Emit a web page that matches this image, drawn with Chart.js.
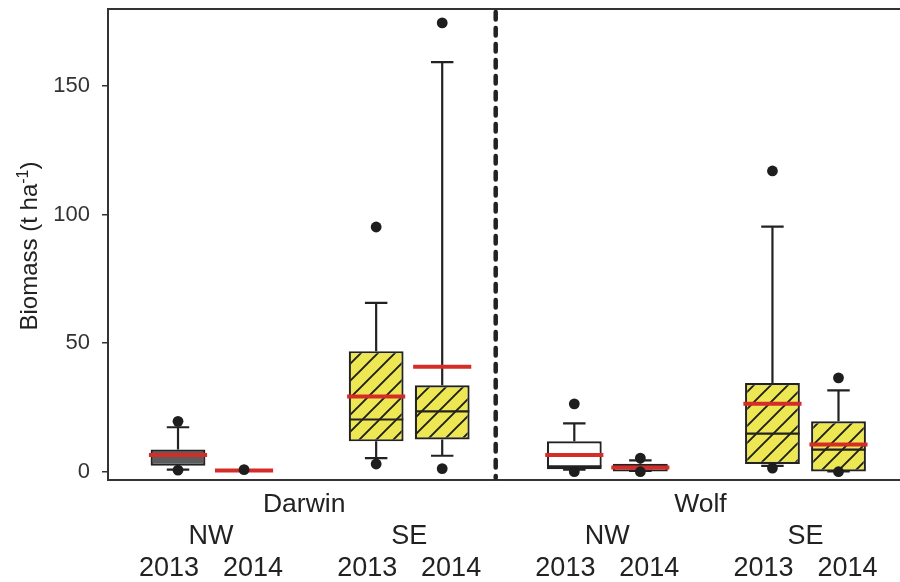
<!DOCTYPE html>
<html>
<head>
<meta charset="utf-8">
<script src="https://cdn.jsdelivr.net/npm/chart.js@4/dist/chart.umd.min.js"></script>
<style>
  html, body { margin: 0; padding: 0; background: #ffffff; overflow: hidden; }
  #wrap { width: 906px; height: 582px; }
</style>
</head>
<body>
<div id="wrap"><canvas id="c" width="906" height="582"></canvas></div>
<script>
// ---- data ----
const islands = ['Darwin', 'Wolf'];
const sites = ['NW', 'SE'];
const years = ['2013', '2014'];
// boxes in order: Darwin NW 2013, Darwin NW 2014, Darwin SE 2013, Darwin SE 2014,
//                 Wolf NW 2013,   Wolf NW 2014,   Wolf SE 2013,   Wolf SE 2014
const q1       = [2.3, 0.4, 11.8, 12.5, 1.0, 0.1, 3.0, 0.1];
const q3       = [8.6, 0.6, 46.9, 33.6, 11.8, 3.1, 34.5, 19.6];
const medians  = [6.5, 0.5, 20.3, 23.5, 2.1, 1.6, 14.8, 8.6];
const means    = [6.5, 0.5, 29.3, 40.8, 6.5, 1.6, 26.4, 10.6];
const whiskLo  = [0.8, 0.5, 5.3, 6.2, 0.8, 0.3, 2.3, 0.1];
const whiskHi  = [17.3, 0.6, 65.7, 159.3, 18.8, 4.4, 95.3, 31.6];
const outliers = [[19.6, 0.6], [0.8], [95.2, 3.0], [174.6, 1.2], [26.4, 0.0], [5.3, 0.0], [117.0, 1.4], [36.5, 0.0]];
const tickValues = [0, 50, 100, 150];
const tickLabels = ['0', '50', '100', '150'];
const yTitle = 'Biomass (t ha';
const yTitleSup = '-1';

// ---- layout helpers ----
const nBoxes = q1.length;
const posOf = i => i + Math.floor(i / 2);          // one empty slot between site groups
const positions = Array.from({length: nBoxes}, (_, i) => posOf(i));
const DIVIDER = 4.81;

function hatch() {
  const s = 17;
  const c = document.createElement('canvas');
  c.width = s; c.height = s;
  const g = c.getContext('2d');
  g.fillStyle = '#ECE752';
  g.fillRect(0, 0, s, s);
  g.strokeStyle = '#1e1e1e';
  g.lineWidth = 1.9;
  g.beginPath();
  for (const k of [-1, 0, 1]) {
    g.moveTo(k * s - 1, s + 1);
    g.lineTo(k * s + s + 1, -1);
  }
  g.stroke();
  return g.createPattern(c, 'repeat');
}
const H = hatch();
const fills = ['#5C5C5C', '#5C5C5C', H, H, '#FFFFFF', '#FFFFFF', H, H];

const boxData = positions.map((p, i) => ({x: p, y: [q1[i], q3[i]]}));
const outlierData = [];
outliers.forEach((arr, i) => arr.forEach(v => outlierData.push({x: positions[i], y: v})));

const FONT = "'Liberation Sans', Arial, sans-serif";
const INK = '#222222';

const boxParts = {
  id: 'boxParts',
  afterDatasetDraw(chart, args) {
    if (args.index !== 1) return;
    const {ctx, scales: {x, y}} = chart;
    ctx.save();
    ctx.lineCap = 'butt';
    for (let i = 0; i < nBoxes; i++) {
      const p = positions[i];
      const cx = x.getPixelForValue(p);
      const capL = x.getPixelForValue(p - 0.17), capR = x.getPixelForValue(p + 0.17);
      ctx.strokeStyle = INK;
      ctx.lineWidth = 2.2;
      ctx.beginPath();
      ctx.moveTo(cx, y.getPixelForValue(q3[i]));
      ctx.lineTo(cx, y.getPixelForValue(whiskHi[i]));
      ctx.moveTo(capL, y.getPixelForValue(whiskHi[i]));
      ctx.lineTo(capR, y.getPixelForValue(whiskHi[i]));
      ctx.moveTo(cx, y.getPixelForValue(q1[i]));
      ctx.lineTo(cx, y.getPixelForValue(whiskLo[i]));
      ctx.moveTo(capL, y.getPixelForValue(whiskLo[i]));
      ctx.lineTo(capR, y.getPixelForValue(whiskLo[i]));
      ctx.stroke();
      const bl = x.getPixelForValue(p - 0.41), br = x.getPixelForValue(p + 0.41);
      ctx.beginPath();
      ctx.moveTo(bl, y.getPixelForValue(medians[i]));
      ctx.lineTo(br, y.getPixelForValue(medians[i]));
      ctx.stroke();
      const ml = x.getPixelForValue(p - 0.44), mr = x.getPixelForValue(p + 0.44);
      ctx.strokeStyle = '#D52C28';
      ctx.lineWidth = 4;
      ctx.beginPath();
      ctx.moveTo(ml, y.getPixelForValue(means[i]));
      ctx.lineTo(mr, y.getPixelForValue(means[i]));
      ctx.stroke();
    }
    ctx.restore();
  },
  afterDraw(chart) {
    const {ctx, chartArea: a, scales: {x, y}} = chart;
    ctx.save();
    // top frame line
    ctx.strokeStyle = '#333';
    ctx.lineWidth = 2;
    ctx.beginPath();
    ctx.moveTo(a.left - 1, a.top);
    ctx.lineTo(a.right, a.top);
    ctx.stroke();
    // dashed divider between islands
    const dx = x.getPixelForValue(DIVIDER);
    ctx.strokeStyle = '#222';
    ctx.lineWidth = 4.5;
    ctx.lineCap = 'round';
    ctx.setLineDash([7.5, 8.5]);
    ctx.beginPath();
    ctx.moveTo(dx, a.top + 3);
    ctx.lineTo(dx, a.bottom - 2);
    ctx.stroke();
    ctx.setLineDash([]);

    // category labels under the axis
    ctx.fillStyle = INK;
    ctx.textAlign = 'center';
    ctx.textBaseline = 'alphabetic';
    const groupCentres = [];
    for (let g = 0; g < nBoxes / 2; g++) {
      const c = (positions[2 * g] + positions[2 * g + 1]) / 2;
      groupCentres.push(c);
      ctx.font = '27px ' + FONT;
      ctx.fillText(sites[g % 2], x.getPixelForValue(c), 544);
      ctx.fillText(years[0], x.getPixelForValue(c - 0.635), 576);
      ctx.fillText(years[1], x.getPixelForValue(c + 0.635), 576);
    }
    ctx.font = '26.5px ' + FONT;
    islands.forEach((name, k) => {
      const c = (groupCentres[2 * k] + groupCentres[2 * k + 1]) / 2 - 0.09;
      ctx.fillText(name, x.getPixelForValue(c), 512);
    });

    // y axis title with superscript
    ctx.translate(36.5, 246);
    ctx.rotate(-Math.PI / 2);
    ctx.textAlign = 'left';
    ctx.font = '24px ' + FONT;
    const w1 = ctx.measureText(yTitle).width;
    ctx.font = '16px ' + FONT;
    const w2 = ctx.measureText(yTitleSup).width;
    ctx.font = '24px ' + FONT;
    const w3 = ctx.measureText(')').width;
    let sx = -(w1 + w2 + w3) / 2;
    ctx.fillText(yTitle, sx, 0);
    ctx.font = '16px ' + FONT;
    ctx.fillText(yTitleSup, sx + w1, -9);
    ctx.font = '24px ' + FONT;
    ctx.fillText(')', sx + w1 + w2, 0);
    ctx.restore();
  }
};

new Chart(document.getElementById('c'), {
  type: 'bar',
  data: {
    datasets: [
      {
        type: 'scatter',
        data: outlierData,
        pointRadius: 5.4,
        pointHoverRadius: 5.4,
        pointBackgroundColor: '#1e1e1e',
        pointBorderWidth: 0,
        showLine: false
      },
      {
        type: 'bar',
        data: boxData,
        backgroundColor: fills,
        borderColor: INK,
        borderWidth: 2.2,
        borderSkipped: false,
        barPercentage: 0.83,
        categoryPercentage: 1,
        grouped: false
      }
    ]
  },
  options: {
    responsive: false,
    animation: false,
    events: [],
    layout: { autoPadding: false, padding: { top: 9, right: 0, left: 0, bottom: 0 } },
    plugins: { legend: { display: false }, tooltip: { enabled: false } },
    scales: {
      x: {
        type: 'linear',
        min: -1.06,
        max: 11.022,
        offset: false,
        grid: { display: false },
        border: { display: true, color: '#333', width: 2 },
        ticks: { display: false },
        afterFit(s) { s.height = 102; s.paddingLeft = 0; s.paddingRight = 0; }
      },
      y: {
        type: 'linear',
        min: -3.23,
        max: 180,
        grid: { display: true, drawOnChartArea: false, drawTicks: true, tickLength: 6, color: '#333', lineWidth: 1.5 },
        border: { display: true, color: '#333', width: 2 },
        ticks: {
          padding: 12,
          color: '#333',
          font: { family: FONT, size: 22 },
          callback: (v) => { const k = tickValues.indexOf(v); return k >= 0 ? tickLabels[k] : ''; }
        },
        afterBuildTicks(axis) { axis.ticks = tickValues.map(v => ({value: v})); },
        afterFit(s) { s.width = 108; s.paddingTop = 0; s.paddingBottom = 0; }
      }
    }
  },
  plugins: [boxParts]
});
</script>
</body>
</html>
